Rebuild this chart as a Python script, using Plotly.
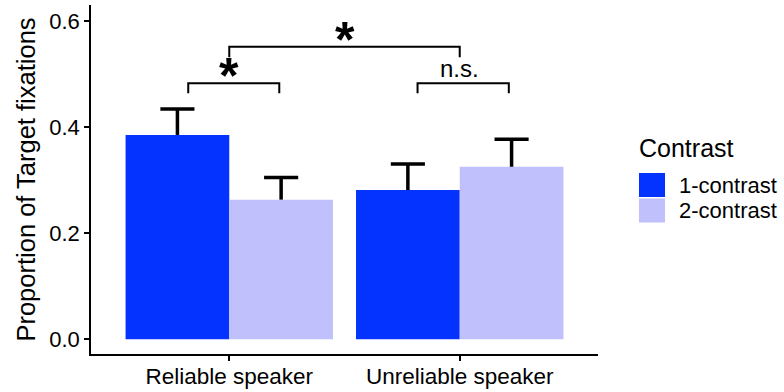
import plotly.graph_objects as go

# Group means and upper standard-error whiskers
speakers = ["Reliable speaker", "Unreliable speaker"]
contrasts = ["1-contrast", "2-contrast"]
mean_1c = [0.385, 0.281]
mean_2c = [0.263, 0.325]
se_1c = [0.049, 0.049]
se_2c = [0.042, 0.052]
yticks = [0.0, 0.2, 0.4, 0.6]

colors = {"1-contrast": "#0432FF", "2-contrast": "#C0C0FC"}
FONT = "Liberation Sans, Arial, sans-serif"

xpos = [1, 2]
bar_w = 0.45
cap_hw = 0.074

fig = go.Figure()

series = [("1-contrast", mean_1c, se_1c, -bar_w / 2),
          ("2-contrast", mean_2c, se_2c, bar_w / 2)]

for name, means, ses, off in series:
    fig.add_trace(go.Bar(
        x=xpos, y=means, name=name, width=bar_w, offset=off - bar_w / 2,
        marker=dict(color=colors[name], line=dict(width=0)),
        showlegend=False,
    ))

# upper whiskers only: stem from bar top to mean + se, with a cap
for name, means, ses, off in series:
    xs, ys = [], []
    for xi, m, s in zip(xpos, means, ses):
        xc = xi + off
        xs += [xc, xc, None, xc - cap_hw, xc + cap_hw, None]
        ys += [m, m + s, None, m + s, m + s, None]
    fig.add_trace(go.Scatter(
        x=xs, y=ys, mode="lines", line=dict(color="black", width=3.5),
        showlegend=False, hoverinfo="skip",
    ))

# significance brackets: (x_left, x_right, y_bar, y_drop, label, label_x)
brackets = [
    (0.822, 1.217, 0.4825, 0.4636, "*", 1.0),
    (1.817, 2.213, 0.4825, 0.4636, "n.s.", 2.0),
    (1.0, 2.0, 0.5515, 0.5315, "*", 1.5),
]
bx, by = [], []
for x0, x1, yb, yd, _, _ in brackets:
    bx += [x0, x0, x1, x1, None]
    by += [yd, yb, yb, yd, None]
fig.add_trace(go.Scatter(
    x=bx, y=by, mode="lines", line=dict(color="black", width=2),
    showlegend=False, hoverinfo="skip",
))
for x0, x1, yb, yd, lab, lx in brackets:
    if lab == "*":
        fig.add_annotation(x=lx, y=yb, text="<b>*</b>", showarrow=False,
                           xanchor="center", yanchor="bottom", yshift=-23,
                           font=dict(family=FONT, size=50, color="black"))
    else:
        fig.add_annotation(x=lx, y=yb, text=lab, showarrow=False,
                           xanchor="center", yanchor="bottom", yshift=-1,
                           font=dict(family=FONT, size=24, color="black"))

# legend drawn by hand so the keys can be as large as the labels
L, R, T, B = 91, 598, 5, 354
def px(x):
    return (x - L) / (R - L)
def py(y):
    return (B - y) / (B - T)

fig.add_annotation(x=px(637), y=py(148), xref="paper", yref="paper",
                   text="Contrast", showarrow=False, xanchor="left",
                   yanchor="middle", font=dict(family=FONT, size=25, color="black"))
for i, name in enumerate(contrasts):
    top = 172 + i * 25.5
    fig.add_shape(type="rect", xref="paper", yref="paper",
                  x0=px(639), x1=px(665), y0=py(top + 1), y1=py(top + 25),
                  fillcolor=colors[name], line=dict(width=0))
    fig.add_annotation(x=px(677), y=py(top + 13), xref="paper", yref="paper",
                       text=name, showarrow=False, xanchor="left",
                       yanchor="middle", font=dict(family=FONT, size=22, color="black"))

fig.update_layout(
    width=784, height=392,
    margin=dict(l=L, r=784 - R, t=T, b=392 - B),
    paper_bgcolor="white", plot_bgcolor="white",
    barmode="overlay",
    font=dict(family=FONT, color="black"),
)
fig.update_xaxes(
    range=[0.4, 2.6], tickvals=xpos, ticktext=speakers, automargin=False,
    showline=True, linecolor="black", linewidth=1.5,
    ticks="outside", ticklen=5, tickwidth=1.5, tickcolor="black",
    tickfont=dict(family=FONT, size=22.5, color="black"),
    ticklabelstandoff=-4,
    showgrid=False, zeroline=False,
)
fig.update_yaxes(
    range=[-0.028, 0.63], tickvals=yticks, ticktext=[f"{v:.1f}" for v in yticks],
    automargin=False,
    showline=True, linecolor="black", linewidth=1.5,
    ticks="outside", ticklen=5, tickwidth=1.5, tickcolor="black",
    tickfont=dict(family=FONT, size=22, color="black"),
    showgrid=False, zeroline=False,
    title=dict(text="Proportion of Target fixations", standoff=6,
               font=dict(family=FONT, size=25.5, color="black")),
)

fig.write_html("out.html")
